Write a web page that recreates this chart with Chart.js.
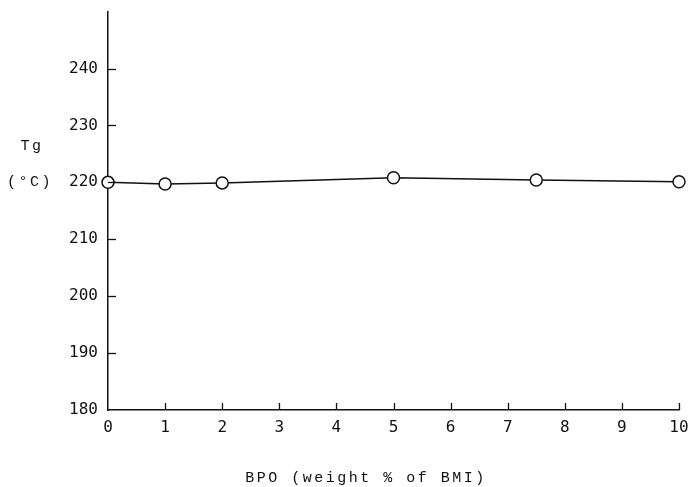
<!DOCTYPE html>
<html>
<head>
<meta charset="utf-8">
<script src="https://cdn.jsdelivr.net/npm/chart.js@4"></script>
<style>
  html, body { margin: 0; padding: 0; background: #fff; }
  #wrap { width: 697px; height: 487px; }
</style>
</head>
<body>
<div id="wrap"><canvas id="chart1" width="697" height="487"></canvas></div>
<script>
// BPO content vs Tg
var bpoPct = [0, 1, 2, 5, 7.5, 10];
var tgValues = [220.0, 219.7, 219.9, 220.8, 220.4, 220.1];
var xTicks = [0, 1, 2, 3, 4, 5, 6, 7, 8, 9, 10];
var yTicks = [180, 190, 200, 210, 220, 230, 240];
var yTitleLines = ['Tg', '(\u00B0C)'];
var xTitle = 'BPO (weight % of BMI)';

var tickFont = { family: 'DejaVu Sans Mono', size: 16 };

// ticks drawn inward, plus the axis titles
var inwardTicks = {
  id: 'inwardTicks',
  afterDraw: function (chart) {
    var ctx = chart.ctx;
    var xs = chart.scales.x, ys = chart.scales.y;
    var area = chart.chartArea;
    ctx.save();
    ctx.strokeStyle = '#111';
    ctx.lineWidth = 1.3;
    xTicks.forEach(function (v) {
      if (v === 0) return;
      var px = Math.round(xs.getPixelForValue(v)) + 0.5;
      ctx.beginPath();
      ctx.moveTo(px, area.bottom);
      ctx.lineTo(px, area.bottom - 7);
      ctx.stroke();
    });
    yTicks.forEach(function (v) {
      if (v === 180) return;
      var py = Math.round(ys.getPixelForValue(v)) + 0.5;
      ctx.beginPath();
      ctx.moveTo(area.left, py);
      ctx.lineTo(area.left + 8, py);
      ctx.stroke();
    });
    ctx.fillStyle = '#111';
    ctx.font = '15px "Liberation Mono"';
    ctx.letterSpacing = '2.5px';
    ctx.textAlign = 'center';
    ctx.textBaseline = 'middle';
    ctx.fillText(yTitleLines[0], 32, 146);
    ctx.fillText(yTitleLines[1], 30, 182);
    ctx.fillText(xTitle, 366, 478);
    ctx.restore();
  }
};

var ctx1 = document.getElementById('chart1').getContext('2d');
var chart1 = new Chart(ctx1, {
  type: 'line',
  data: {
    datasets: [{
      data: bpoPct.map(function (x, i) { return { x: x, y: tgValues[i] }; }),
      borderColor: '#111',
      borderWidth: 1.5,
      pointRadius: 6,
      pointBackgroundColor: '#fff',
      pointBorderColor: '#111',
      pointBorderWidth: 1.5,
      tension: 0,
      clip: false
    }]
  },
  options: {
    responsive: false,
    animation: false,
    devicePixelRatio: 1,
    layout: { padding: { top: 5, right: 18, left: 0, bottom: 0 } },
    plugins: { legend: { display: false }, tooltip: { enabled: false } },
    scales: {
      x: {
        type: 'linear',
        min: 0,
        max: 10,
        afterFit: function (s) { s.height = 77; },
        afterBuildTicks: function (s) { s.ticks = xTicks.map(function (v) { return { value: v }; }); },
        grid: { display: false },
        border: { display: true, color: '#111', width: 1.5 },
        ticks: { color: '#111', font: tickFont, padding: 0, maxRotation: 0 }
      },
      y: {
        min: 180,
        max: 250,
        afterFit: function (s) { s.width = 108; },
        afterBuildTicks: function (s) { s.ticks = yTicks.map(function (v) { return { value: v }; }); },
        grid: { display: false },
        border: { display: true, color: '#111', width: 1.5 },
        ticks: { color: '#111', font: tickFont, padding: 2 }
      }
    }
  },
  plugins: [inwardTicks]
});
</script>
</body>
</html>
